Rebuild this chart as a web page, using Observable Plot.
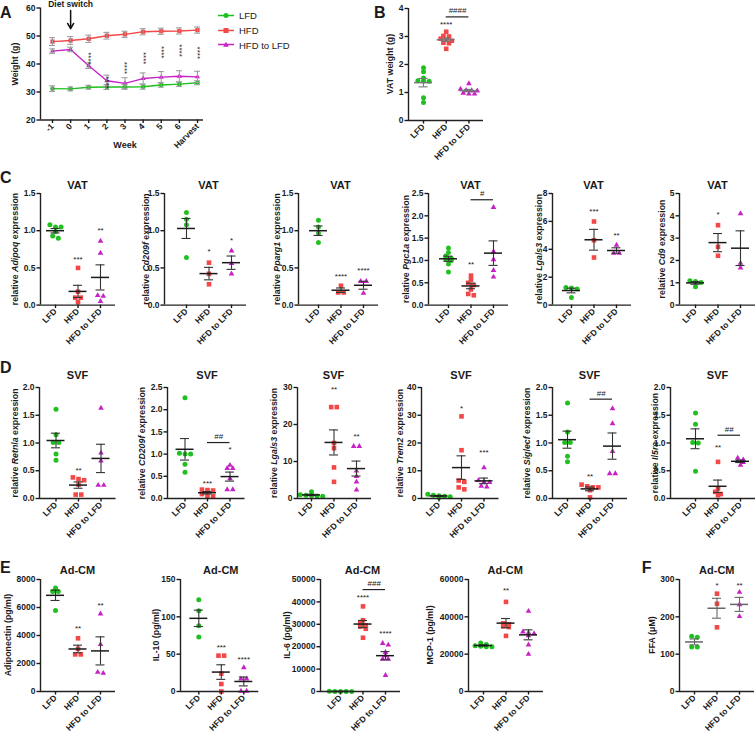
<!DOCTYPE html>
<html><head><meta charset="utf-8">
<script src="https://cdn.jsdelivr.net/npm/d3@7"></script>
<script src="https://cdn.jsdelivr.net/npm/@observablehq/plot@0.6"></script>
<style>
body{margin:0;background:#fff;}
#fig{position:relative;width:756px;height:736px;overflow:hidden;font-family:"Liberation Sans",Arial,sans-serif;color:#1a1a1a;}
.abs{position:absolute;white-space:nowrap;}
.letter{font-weight:bold;font-size:16px;line-height:16px;}
.title{font-weight:bold;font-size:11px;transform:translate(-50%,-50%);}
.ylab{font-weight:bold;font-size:8.8px;transform:translate(-50%,-50%) rotate(-90deg);}
.xlab{font-weight:bold;font-size:9px;transform:translate(-50%,-50%);}
.leg{font-size:9.5px;display:flex;align-items:center;transform:translateY(-50%);}
</style></head><body><div id="fig"></div>
<script>
// ---------------- data ----------------
const groups = ["LFD", "HFD", "HFD to LFD"];
const weeks = ["-1", "0", "1", "2", "3", "4", "5", "6", "Harvest"];
const weightLFD = [31.2, 31.1, 31.7, 31.8, 31.8, 31.9, 32.5, 32.8, 33.3];
const weightLFDsem = [1.0, 0.7, 0.7, 0.9, 0.8, 0.9, 0.8, 0.8, 0.7];
const weightHFD = [48.0, 48.4, 49.0, 50.1, 50.6, 51.5, 51.7, 51.8, 52.1];
const weightHFDsem = [1.4, 1.4, 1.3, 1.2, 1.1, 1.1, 1.1, 1.1, 1.1];
const weightHtL = [44.6, 45.2, 39.4, 34.0, 33.1, 34.8, 35.3, 35.6, 35.4];
const weightHtLsem = [0.8, 0.8, 1.0, 2.0, 2.0, 2.0, 2.0, 2.0, 2.0];
const weightStars = ["", "", "****", "****", "****", "****", "****", "****", "****"];
const weightStarY = [null, null, 42.0, 33.4, 38.6, 42.1, 44.2, 44.8, 44.0];

const vatWeight = [[1.88, 1.74, 1.52, 1.42, 1.41, 1.40, 0.81, 0.64],
                   [3.17, 3.02, 3.00, 2.92, 2.88, 2.85, 2.78, 2.76, 2.56],
                   [1.32, 1.12, 1.08, 1.07, 1.06, 0.98, 0.95, 0.95]];
const vatWeightStars = ["", "****", ""], vatWeightStarY = [null, 3.43, null];

const vatAdipoq = [[1.08, 1.05, 1.05, 0.99, 0.93, 0.90], [0.50, 0.18, 0.10, 0.10, 0.04], [0.86, 0.70, 0.13, 0.12, 0.05]];
const vatAdipoqStars = ["", "***", "**"], vatAdipoqStarY = [null, 0.62, 1.0];
const vatCd209f = [[1.245, 1.155, 1.08, 0.64], [0.57, 0.42, 0.28], [0.73, 0.56, 0.42]];
const vatCd209fStars = ["", "*", "*"], vatCd209fStarY = [null, 0.72, 0.87];
const vatPparg1 = [[1.14, 1.05, 0.97, 0.84], [0.26, 0.17, 0.17], [0.32, 0.32, 0.16]];
const vatPparg1Stars = ["", "****", "****"], vatPparg1StarY = [null, 0.38, 0.47];
const vatPgc1a = [[1.28, 1.18, 1.10, 1.05, 1.03, 1.00, 0.92, 0.74], [0.66, 0.57, 0.50, 0.45, 0.35, 0.25, 0.22], [2.19, 1.20, 1.02, 0.78, 0.63]];
const vatPgc1aStars = ["", "**", ""], vatPgc1aStarY = [null, 0.90, null];
const vatLgals3 = [[1.26, 1.22, 1.15, 0.55], [5.99, 4.65, 3.41], [4.30, 3.72, 3.72]];
const vatLgals3Stars = ["", "***", "**"], vatLgals3StarY = [null, 6.7, 4.96];
const vatCd9 = [[1.09, 1.06, 1.01, 0.82], [3.58, 2.61, 2.21], [4.10, 1.88, 1.67]];
const vatCd9Stars = ["", "*", ""], vatCd9StarY = [null, 4.07, null];

const svfRetnla = [[1.61, 1.15, 1.01, 1.01, 0.80, 0.69], [0.38, 0.35, 0.33, 0.25, 0.07, 0.07], [1.63, 0.82, 0.68, 0.24, 0.24]];
const svfRetnlaStars = ["", "**", ""], svfRetnlaStarY = [null, 0.51, null];
const svfCd209f = [[2.27, 1.02, 1.00, 1.00, 0.77, 0.59], [0.20, 0.19, 0.18, 0.10, 0.06, 0.05], [0.75, 0.68, 0.68, 0.45, 0.20, 0.20]];
const svfCd209fStars = ["", "***", "*"], svfCd209fStarY = [null, 0.34, 1.11];
const svfLgals3 = [[1.8, 1.0, 0.9, 0.8, 0.7, 0.6], [24.7, 24.7, 15.0, 13.6, 8.4, 4.5], [14.1, 14.1, 7.5, 6.0, 4.5, 2.3]];
const svfLgals3Stars = ["", "**", "**"], svfLgals3StarY = [null, 29.5, 16.7];
const svfTrem2 = [[1.5, 1.2, 1.0, 0.8, 0.6, 0.4], [29.6, 17.4, 6.5, 6.0, 4.0, 3.3], [11.1, 6.5, 6.0, 5.8, 4.5, 4.2]];
const svfTrem2Stars = ["", "*", "***"], svfTrem2StarY = [null, 32.4, 16.6];
const svfSiglecf = [[1.72, 1.20, 1.01, 1.01, 0.76, 0.66], [0.25, 0.22, 0.20, 0.20, 0.15, 0.02], [1.62, 1.35, 0.85, 0.45, 0.45]];
const svfSiglecfStars = ["", "**", ""], svfSiglecfStarY = [null, 0.39, null];
const svfIl5ra = [[1.54, 1.34, 1.01, 1.00, 0.49], [0.66, 0.18, 0.12, 0.08, 0.06], [0.73, 0.70, 0.67, 0.65, 0.60]];
const svfIl5raStars = ["", "**", ""], svfIl5raStarY = [null, 0.92, null];

const cmAdiponectin = [[7400, 7150, 7150, 5780], [3800, 3050, 2650, 2650], [5550, 3360, 1380, 1310]];
const cmAdiponectinStars = ["", "**", "**"], cmAdiponectinStarY = [null, 4480, 6140];
const cmIL10 = [[123, 108, 88, 73], [48, 48, 24, 10, 0], [32, 17, 17, 0.5, 0.5]];
const cmIL10Stars = ["", "***", "****"], cmIL10StarY = [null, 59, 42.4];
const cmIL6 = [[60, 40, 30, 20, 10], [38000, 31800, 30500, 29500, 29000, 28000, 24000], [21500, 20800, 17500, 16000, 14500, 14500, 7200]];
const cmIL6Stars = ["", "****", "****"], cmIL6StarY = [null, 41800, 25800];
const cmMCP1 = [[26000, 25200, 24500, 24200, 24000, 24000], [48000, 36500, 36000, 35000, 34500, 29800], [43000, 32000, 31500, 31000, 30000, 25000, 20000]];
const cmMCP1Stars = ["", "**", ""], cmMCP1StarY = [null, 54100, null];
const cmFFA = [[148, 145, 119, 119], [262, 235, 172], [266, 233, 201]];
const cmFFAStars = ["", "*", "**"], cmFFAStarY = [null, 284, 284];

// ---------------- drawing ----------------
const COLORS = ["#1fc01f", "#f24848", "#c622c6"];
const SYMBOLS = ["circle", "square", "triangle"];
const RADII = [2.5, 2.6, 2.1];
const FONT = '"Liberation Sans", Arial, sans-serif';
const fig = document.getElementById("fig");
const plotStyle = {fontFamily: FONT, fontSize: "8.5px", fontWeight: "bold", color: "#1a1a1a", background: "none", overflow: "visible"};

function addText(html, x, y, cls) {
  const d = document.createElement("div");
  d.className = "abs " + cls;
  d.style.left = x + "px"; d.style.top = y + "px";
  d.innerHTML = html;
  fig.appendChild(d);
}
function place(svg, left, top) {
  svg.style.position = "absolute";
  svg.style.left = left + "px"; svg.style.top = top + "px";
  fig.appendChild(svg);
}

function dotPanel(p) {
  const {data, dom, ticks, dec, ax, c0, top, bot, stars, starY, bracket} = p;
  const step = p.step ?? 22.5;
  const axEnd = p.axEnd ?? (c0 + 2 * step + 15);
  const errColor = p.errColor ?? "#333";
  const H = bot - top, W = axEnd - ax;
  const ML = 45, MR = 10, MT = 20, MB = 62;
  const xdom = [(ax - c0) / step, (axEnd - c0) / step];
  const pxU = H / (dom[1] - dom[0]);
  const pts = [];
  // GraphPad-like scatter: points at (nearly) the same level are spread in centred rows
  data.forEach((vals, g) => {
    const s = [...vals].sort((a, b) => b - a);
    const rows = [];
    for (const v of s) {
      const r = rows[rows.length - 1];
      if (r && Math.abs(r[0] - v) * pxU < 2.8) r.push(v); else rows.push([v]);
    }
    rows.forEach(r => r.forEach((v, k) => pts.push({g, v, x: g + (k - (r.length - 1) / 2) * 5.6 / step})));
  });
  const stats = data.map((vals, g) => {
    const m = d3.mean(vals), se = d3.deviation(vals) / Math.sqrt(vals.length);
    return {g, m, lo: m - se, hi: m + se};
  });
  const sig = stars.map((t, g) => ({g, t, y: starY[g]})).filter(d => d.t);
  const marks = [
    ...[0, 1, 2].map(g => Plot.dot(pts.filter(d => d.g === g), {x: "x", y: "v", symbol: SYMBOLS[g], fill: COLORS[g], r: RADII[g]})),
    Plot.ruleX(stats, {x: "g", y1: "lo", y2: "hi", stroke: errColor, strokeWidth: 1.1}),
    Plot.ruleY(stats, {x1: d => d.g - 4.5 / step, x2: d => d.g + 4.5 / step, y: "lo", stroke: errColor, strokeWidth: 1.1}),
    Plot.ruleY(stats, {x1: d => d.g - 4.5 / step, x2: d => d.g + 4.5 / step, y: "hi", stroke: errColor, strokeWidth: 1.1}),
    Plot.ruleY(stats, {x1: d => d.g - 9 / step, x2: d => d.g + 9 / step, y: "m", stroke: errColor === "#333" ? "#1a1a1a" : errColor, strokeWidth: 1.5}),
    Plot.text(sig, {x: "g", y: "y", text: "t", fontSize: 8, fontWeight: "normal"}),
    Plot.ruleY([dom[0]], {stroke: "#222", strokeWidth: 1.4}),
    Plot.ruleX([xdom[0]], {stroke: "#222", strokeWidth: 1.4}),
    Plot.axisY({ticks, tickSize: 3.5, tickPadding: 1.5, tickFormat: d => d.toFixed(dec), label: null, strokeWidth: 1.4}),
    Plot.axisX({ticks: [0, 1, 2], tickSize: 3.5, tickPadding: 1.5, tickRotate: -45, tickFormat: i => groups[i], label: null, strokeWidth: 1.4, fontSize: 8.5})
  ];
  if (bracket) {
    marks.push(Plot.ruleY([bracket.line], {x1: 1, x2: 2, stroke: "#222", strokeWidth: 1.2}));
    marks.push(Plot.text([bracket.ty], {x: 1.5, y: d => d, text: () => bracket.t, fontSize: 8, fontWeight: "normal"}));
  }
  const svg = Plot.plot({
    width: ML + W + MR, height: MT + H + MB,
    marginLeft: ML, marginRight: MR, marginTop: MT, marginBottom: MB,
    x: {domain: xdom}, y: {domain: dom},
    style: plotStyle, marks
  });
  place(svg, ax - ML, top - MT);
  if (p.title) addText(p.title, c0 + step, p.titleY, "title");
  if (p.ylab) addText(p.ylab, p.ylx, (top + bot) / 2, "ylab");
}

// ---- Panel A ----
(function panelA() {
  const ax = 40, c0 = 52, step = 18.125, axEnd = 203, top = 7.5, bot = 119.5;
  const ML = 40, MR = 10, MT = 7.5, MB = 45;
  const xdom = [(ax - c0) / step, (axEnd - c0) / step];
  const series = [[weightLFD, weightLFDsem], [weightHFD, weightHFDsem], [weightHtL, weightHtLsem]];
  const rows = series.map(([m, s], g) => m.map((v, i) => ({g, i, m: v, lo: v - s[i], hi: v + s[i]})));
  const sig = weightStars.map((t, i) => ({i, t, y: weightStarY[i]})).filter(d => d.t);
  const marks = [
    ...rows.map((r, g) => Plot.line(r, {x: "i", y: "m", stroke: COLORS[g], strokeWidth: 1.4})),
    ...rows.map((r, g) => Plot.dot(r, {x: "i", y: "m", symbol: SYMBOLS[g], fill: COLORS[g], r: RADII[g] - 0.2})),
    ...rows.map(r => Plot.ruleX(r, {x: "i", y1: "lo", y2: "hi", stroke: "#999", strokeWidth: 1})),
    ...rows.map(r => Plot.ruleY(r, {x1: d => d.i - 3 / step, x2: d => d.i + 3 / step, y: "lo", stroke: "#999", strokeWidth: 1})),
    ...rows.map(r => Plot.ruleY(r, {x1: d => d.i - 3 / step, x2: d => d.i + 3 / step, y: "hi", stroke: "#999", strokeWidth: 1})),
    Plot.text(sig, {x: "i", y: "y", text: "t", rotate: 90, fontSize: 8, fontWeight: "normal"}),
    Plot.arrow([0], {x1: 1, x2: 1, y1: 59.1, y2: 52.6, stroke: "#111", strokeWidth: 1.5, headLength: 7}),
    Plot.text(["Diet switch"], {x: 1, y: 61.3, text: d => d, fontSize: 8.5}),
    Plot.ruleY([20], {stroke: "#222", strokeWidth: 1.4}),
    Plot.ruleX([xdom[0]], {stroke: "#222", strokeWidth: 1.4}),
    Plot.axisY({ticks: [20, 30, 40, 50, 60], tickSize: 3.5, tickPadding: 1.5, label: null, strokeWidth: 1.4}),
    Plot.axisX({ticks: d3.range(weeks.length), tickSize: 3.5, tickPadding: 1.5, tickRotate: -45, tickFormat: i => weeks[i], label: null, strokeWidth: 1.4})
  ];
  const svg = Plot.plot({
    width: ML + (axEnd - ax) + MR, height: MT + (bot - top) + MB,
    marginLeft: ML, marginRight: MR, marginTop: MT, marginBottom: MB,
    x: {domain: xdom}, y: {domain: [20, 60]},
    style: plotStyle, marks
  });
  place(svg, ax - ML, top - MT);
  addText("Weight (g)", 15, (top + bot) / 2, "ylab");
  addText("Week", 125, 145, "xlab");
  // legend
  const glyph = [
    '<circle cx="8" cy="5" r="2.5" fill="' + COLORS[0] + '"/>',
    '<rect x="5.5" y="2.5" width="5" height="5" fill="' + COLORS[1] + '"/>',
    '<path d="M8,2.2 L10.8,7.2 L5.2,7.2 Z" fill="' + COLORS[2] + '"/>'
  ];
  groups.forEach((g, k) => {
    addText('<svg width="16" height="10" style="margin-right:5px"><line x1="0" x2="16" y1="5" y2="5" stroke="' + COLORS[k] + '" stroke-width="1.4"/>' + glyph[k] + '</svg>' + g,
      218, [15, 30, 44.5][k], "leg");
  });
})();

// ---- Panel B ----
dotPanel({data: vatWeight, dom: [0, 4], ticks: [0, 1, 2, 3, 4], dec: 0, ax: 408, c0: 423, step: 22.7, axEnd: 483,
  top: 7.5, bot: 119.5, stars: vatWeightStars, starY: vatWeightStarY, errColor: "#777",
  bracket: {line: 3.7, ty: 3.92, t: "####"}, ylab: "VAT weight (g)", ylx: 390});

// ---- Panel C ----
const cTop = 192.7, cBot = 304.3, cTitle = 185;
const relLab = g => 'relative <i>' + g + '</i> expression';
dotPanel({data: vatAdipoq, dom: [0, 1.5], ticks: [0, 0.5, 1, 1.5], dec: 1, ax: 40, c0: 55, top: cTop, bot: cBot,
  stars: vatAdipoqStars, starY: vatAdipoqStarY, title: "VAT", titleY: cTitle, ylab: relLab("Adipoq"), ylx: 15});
dotPanel({data: vatCd209f, dom: [0, 1.5], ticks: [0, 0.5, 1, 1.5], dec: 1, ax: 164, c0: 186, top: cTop, bot: cBot,
  stars: vatCd209fStars, starY: vatCd209fStarY, title: "VAT", titleY: cTitle, ylab: relLab("Cd209f"), ylx: 145.5});
dotPanel({data: vatPparg1, dom: [0, 1.5], ticks: [0, 0.5, 1, 1.5], dec: 1, ax: 298, c0: 318, top: cTop, bot: cBot,
  stars: vatPparg1Stars, starY: vatPparg1StarY, title: "VAT", titleY: cTitle, ylab: relLab("Pparg1"), ylx: 277});
dotPanel({data: vatPgc1a, dom: [0, 2.5], ticks: [0, 0.5, 1, 1.5, 2, 2.5], dec: 1, ax: 428, c0: 448, top: cTop, bot: cBot,
  stars: vatPgc1aStars, starY: vatPgc1aStarY, bracket: {line: 2.36, ty: 2.5, t: "#"},
  title: "VAT", titleY: cTitle, ylab: relLab("Pgc1a"), ylx: 406});
dotPanel({data: vatLgals3, dom: [0, 8], ticks: [0, 2, 4, 6, 8], dec: 0, ax: 552, c0: 571, top: cTop, bot: cBot,
  stars: vatLgals3Stars, starY: vatLgals3StarY, title: "VAT", titleY: cTitle, ylab: relLab("Lgals3"), ylx: 538.5});
dotPanel({data: vatCd9, dom: [0, 5], ticks: [0, 1, 2, 3, 4, 5], dec: 0, ax: 679, c0: 695, top: cTop, bot: cBot,
  stars: vatCd9Stars, starY: vatCd9StarY, title: "VAT", titleY: cTitle, ylab: relLab("Cd9"), ylx: 661.5});

// ---- Panel D ----
const dTop = 387.3, dBot = 498.3, dTitle = 375;
dotPanel({data: svfRetnla, dom: [0, 2], ticks: [0, 0.5, 1, 1.5, 2], dec: 1, ax: 38.5, c0: 55, top: dTop, bot: dBot,
  stars: svfRetnlaStars, starY: svfRetnlaStarY, title: "SVF", titleY: dTitle, ylab: relLab("Retnla"), ylx: 15});
dotPanel({data: svfCd209f, dom: [0, 2.5], ticks: [0, 0.5, 1, 1.5, 2, 2.5], dec: 1, ax: 167, c0: 184.5, top: dTop, bot: dBot,
  stars: svfCd209fStars, starY: svfCd209fStarY, bracket: {line: 1.26, ty: 1.39, t: "##"},
  title: "SVF", titleY: dTitle, ylab: relLab("CD209f"), ylx: 141.5});
dotPanel({data: svfLgals3, dom: [0, 30], ticks: [0, 10, 20, 30], dec: 0, ax: 297, c0: 311, top: dTop, bot: dBot,
  stars: svfLgals3Stars, starY: svfLgals3StarY, title: "SVF", titleY: dTitle, ylab: relLab("Lgals3"), ylx: 273.5});
dotPanel({data: svfTrem2, dom: [0, 40], ticks: [0, 10, 20, 30, 40], dec: 0, ax: 421, c0: 438.5, top: dTop, bot: dBot,
  stars: svfTrem2Stars, starY: svfTrem2StarY, title: "SVF", titleY: dTitle, ylab: relLab("Trem2"), ylx: 400});
dotPanel({data: svfSiglecf, dom: [0, 2], ticks: [0, 0.5, 1, 1.5, 2], dec: 1, ax: 552, c0: 567, top: dTop, bot: dBot,
  stars: svfSiglecfStars, starY: svfSiglecfStarY, bracket: {line: 1.79, ty: 1.9, t: "##"},
  title: "SVF", titleY: dTitle, ylab: relLab("Siglecf"), ylx: 526.5});
dotPanel({data: svfIl5ra, dom: [0, 2], ticks: [0, 0.5, 1, 1.5, 2], dec: 1, ax: 670, c0: 695, top: dTop, bot: dBot,
  stars: svfIl5raStars, starY: svfIl5raStarY, bracket: {line: 1.14, ty: 1.25, t: "##"},
  title: "SVF", titleY: dTitle, ylab: relLab("Il5ra"), ylx: 655});

// ---- Panel E & F ----
const eTop = 579, eBot = 691, eTitle = 570;
dotPanel({data: cmAdiponectin, dom: [0, 8000], ticks: [0, 2000, 4000, 6000, 8000], dec: 0, ax: 40, c0: 55, top: eTop, bot: eBot,
  stars: cmAdiponectinStars, starY: cmAdiponectinStarY, title: "Ad-CM", titleY: eTitle, ylab: "Adiponectin (pg/ml)", ylx: 7.5});
dotPanel({data: cmIL10, dom: [0, 150], ticks: [0, 50, 100, 150], dec: 0, ax: 180, c0: 198.3, top: eTop, bot: eBot,
  stars: cmIL10Stars, starY: cmIL10StarY, title: "Ad-CM", titleY: eTitle, ylab: "IL-10 (pg/ml)", ylx: 156});
dotPanel({data: cmIL6, dom: [0, 50000], ticks: [0, 10000, 20000, 30000, 40000, 50000], dec: 0, ax: 320, c0: 340, top: eTop, bot: eBot,
  stars: cmIL6Stars, starY: cmIL6StarY, bracket: {line: 45500, ty: 48300, t: "###"},
  title: "Ad-CM", titleY: eTitle, ylab: "IL-6 (pg/ml)", ylx: 286.7});
dotPanel({data: cmMCP1, dom: [0, 60000], ticks: [0, 20000, 40000, 60000], dec: 0, ax: 467.7, c0: 482.7, top: eTop, bot: eBot,
  stars: cmMCP1Stars, starY: cmMCP1StarY, title: "Ad-CM", titleY: eTitle, ylab: "MCP-1 (pg/ml)", ylx: 430});
dotPanel({data: cmFFA, dom: [0, 300], ticks: [0, 100, 200, 300], dec: 0, ax: 679.3, c0: 694.3, top: eTop, bot: eBot,
  stars: cmFFAStars, starY: cmFFAStarY, errColor: "#666", title: "Ad-CM", titleY: eTitle, ylab: "FFA (μM)", ylx: 651.7});

// ---- panel letters ----
[["A", 0, 5], ["B", 374, 5], ["C", 0, 169.5], ["D", 0, 359.5], ["E", 0, 559.5], ["F", 641.7, 559.5]]
  .forEach(([t, x, y]) => addText(t, x, y, "letter"));
</script></body></html>
